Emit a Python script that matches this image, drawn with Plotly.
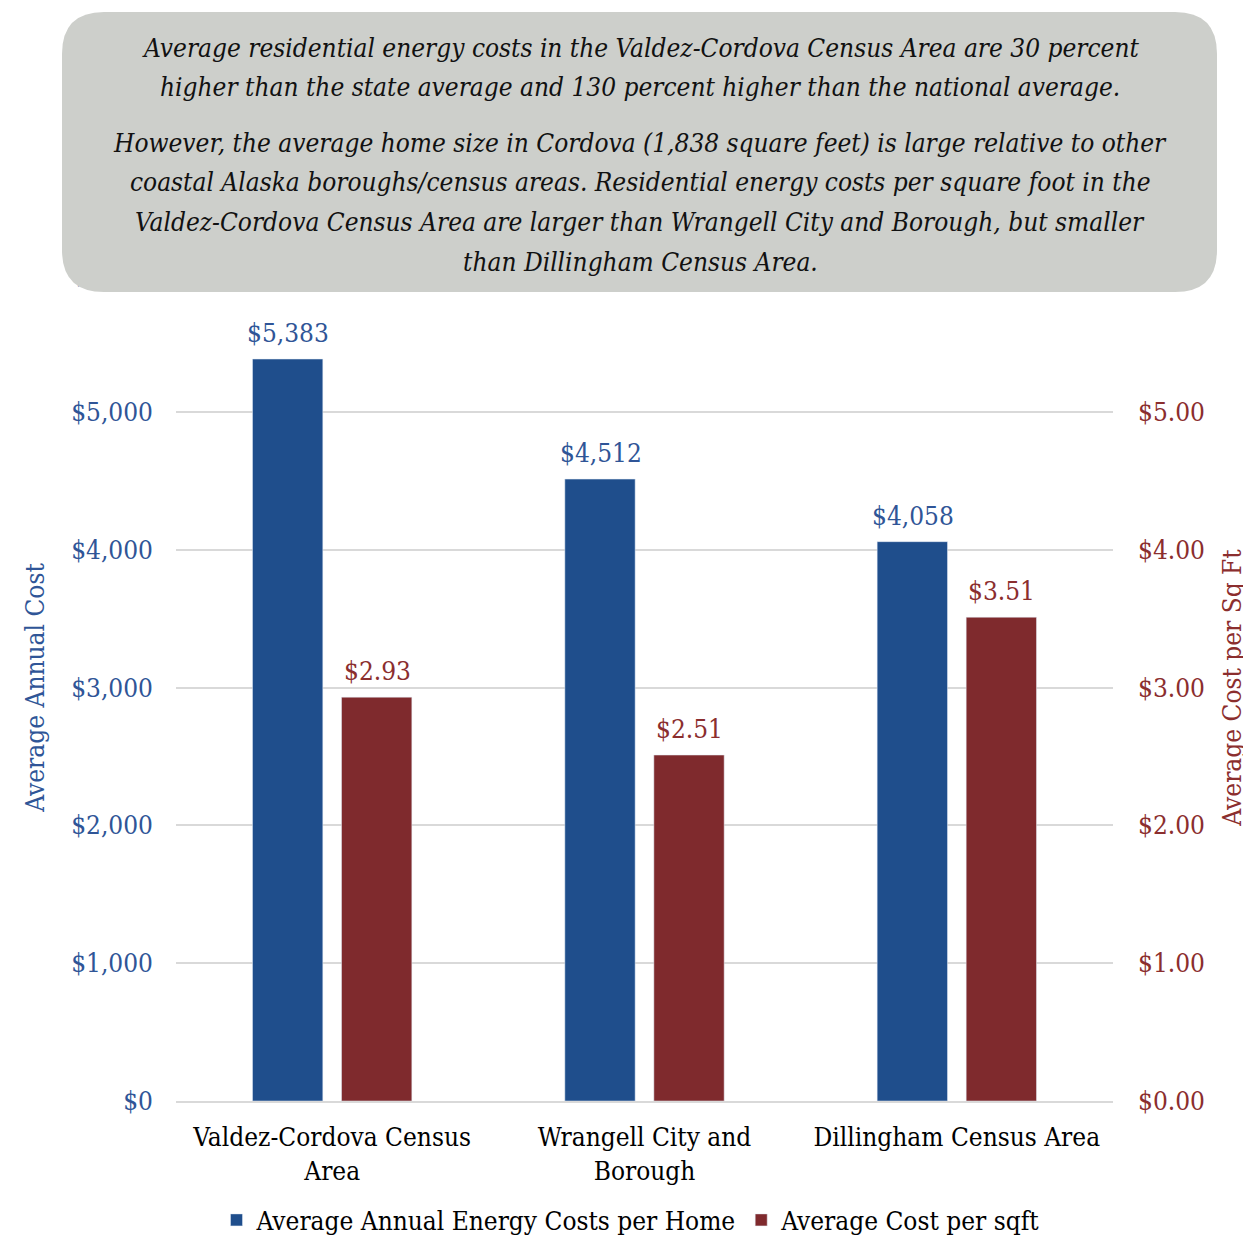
import plotly.graph_objects as go

# datos
areas = ["Valdez-Cordova Census<br>Area", "Wrangell City and<br>Borough", "Dillingham Census Area"]
costo_anual = [5383, 4512, 4058]
costo_sqft = [2.93, 2.51, 3.51]
ticks_izq = [0, 1000, 2000, 3000, 4000, 5000, 6000]
ticks_der = [0, 1, 2, 3, 4, 5, 6]

lineas_nota = [
    "Average residential energy costs in the Valdez-Cordova Census Area are 30 percent",
    "higher than the state average and 130 percent higher than the national average.",
    "However, the average home size in Cordova (1,838 square feet) is large relative to other",
    "coastal Alaska boroughs/census areas. Residential energy costs per square foot in the",
    "Valdez-Cordova Census Area are larger than Wrangell City and Borough, but smaller",
    "than Dillingham Census Area.",
]
y_lineas = [48, 87, 143, 182, 222, 262]

AZUL = "#1F4E8C"
ROJO = "#7F2A2D"
AZUL_TXT = "#2F5597"
ROJO_TXT = "#8B2E2E"
FUENTE = "DejaVu Serif Condensed, Liberation Serif, serif"

# la pagina tiene 8px de margen en el body
OFF = 8
W, H = 1251, 1257
L, T = 176 - OFF, 274 - OFF
R = W - (1113 - OFF)
B = H - (1101 - OFF)
pw, ph = W - L - R, H - T - B


def px_x(x):
    return (x - OFF - L) / pw


def px_y(y):
    return (H - B - (y - OFF)) / ph


fig = go.Figure()

fig.add_trace(go.Bar(
    x=areas, y=costo_anual, name="Average Annual Energy Costs per Home",
    marker=dict(color=AZUL), offsetgroup=1,
))
fig.add_trace(go.Bar(
    x=areas, y=costo_sqft, name="Average Cost per sqft", yaxis="y2",
    marker=dict(color=ROJO), offsetgroup=2,
))

# etiquetas de datos
etiquetas = []
for a, v in zip(areas, costo_anual):
    etiquetas.append(dict(x=a, y=v, xref="x", yref="y", text=f"${v:,.0f}", showarrow=False,
                          yanchor="bottom", xshift=-44, yshift=9,
                          font=dict(size=26, color=AZUL_TXT, family=FUENTE)))
for a, v in zip(areas, costo_sqft):
    etiquetas.append(dict(x=a, y=v, xref="x", yref="y2", text=f"${v:.2f}", showarrow=False,
                          yanchor="bottom", xshift=45, yshift=9,
                          font=dict(size=26, color=ROJO_TXT, family=FUENTE)))

# caja redondeada
x0, x1 = px_x(62), px_x(1217)
y0, y1 = px_y(292), px_y(12)
rx, ry = 42 / pw, 42 / ph
camino = (f"M {x0+rx},{y0} L {x1-rx},{y0} Q {x1},{y0} {x1},{y0+ry} "
          f"L {x1},{y1-ry} Q {x1},{y1} {x1-rx},{y1} "
          f"L {x0+rx},{y1} Q {x0},{y1} {x0},{y1-ry} "
          f"L {x0},{y0+ry} Q {x0},{y0} {x0+rx},{y0} Z")

notas = [
    dict(text=t, xref="paper", yref="paper", x=px_x(640), y=px_y(yy), xanchor="center",
         yanchor="middle", showarrow=False,
         font=dict(size=26, color="#111111", family=FUENTE, style="italic"))
    for t, yy in zip(lineas_nota, y_lineas)
]

fig.update_layout(
    width=W, height=H,
    margin=dict(l=L, r=R, t=T, b=B),
    paper_bgcolor="white", plot_bgcolor="white",
    font=dict(family=FUENTE, size=26, color="#000000"),
    barmode="group", bargap=0.43, bargroupgap=0.21,
    showlegend=True,
    legend=dict(orientation="h", x=px_x(631), xanchor="center", y=px_y(1220), yanchor="middle",
                font=dict(size=26, color="#000000"), itemwidth=30, traceorder="normal"),
    xaxis=dict(showgrid=False, showline=True, linecolor="#D9D9D9", linewidth=2,
               tickfont=dict(size=26, color="#000000"), ticks="", ticklabelstandoff=12),
    yaxis=dict(range=[0, 6000], tickvals=ticks_izq, ticktext=[f"${v:,}" for v in ticks_izq],
               showgrid=True, gridcolor="#D9D9D9", gridwidth=2, zeroline=False,
               tickfont=dict(size=26, color=AZUL_TXT), ticklabelstandoff=22,
               title=dict(text="Average Annual Cost", font=dict(size=26, color=AZUL_TXT), standoff=19)),
    yaxis2=dict(range=[0, 6], overlaying="y", side="right", tickvals=ticks_der,
                ticktext=[f"${v:.2f}" for v in ticks_der], showgrid=False, zeroline=False,
                tickfont=dict(size=26, color=ROJO_TXT), ticklabelstandoff=24,
                title=dict(text="Average Cost per Sq Ft", font=dict(size=26, color=ROJO_TXT), standoff=18)),
    shapes=[
        dict(type="path", xref="paper", yref="paper", path=camino,
             fillcolor="#CDCFCB", line=dict(width=0), layer="above"),
    ],
    annotations=etiquetas + notas,
)

fig.write_html("out.html")
